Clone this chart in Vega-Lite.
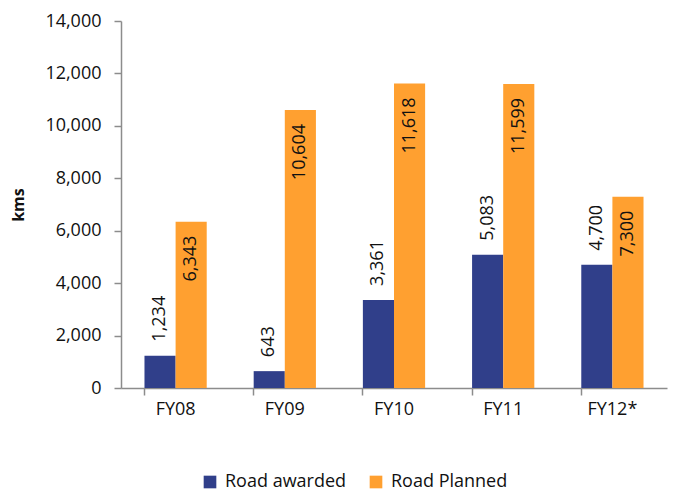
{
  "$schema": "https://vega.github.io/schema/vega-lite/v6.json",
  "width": 546,
  "height": 367,
  "autosize": {"type": "none"},
  "padding": {"left": 121, "top": 21, "right": 8, "bottom": 106},
  "background": "white",
  "config": {
    "font": "Open Sans",
    "view": {"stroke": null},
    "axis": {
      "labelFont": "Open Sans",
      "labelFontSize": 18,
      "labelColor": "#111111",
      "domainColor": "#8c8c8c",
      "tickColor": "#8c8c8c",
      "grid": false
    }
  },
  "data": {
    "values": [
      {"year": "FY08", "series": "Road awarded", "kms": 1234},
      {"year": "FY08", "series": "Road Planned", "kms": 6343},
      {"year": "FY09", "series": "Road awarded", "kms": 643},
      {"year": "FY09", "series": "Road Planned", "kms": 10604},
      {"year": "FY10", "series": "Road awarded", "kms": 3361},
      {"year": "FY10", "series": "Road Planned", "kms": 11618},
      {"year": "FY11", "series": "Road awarded", "kms": 5083},
      {"year": "FY11", "series": "Road Planned", "kms": 11599},
      {"year": "FY12*", "series": "Road awarded", "kms": 4700},
      {"year": "FY12*", "series": "Road Planned", "kms": 7300}
    ]
  },
  "encoding": {
    "x": {
      "field": "year",
      "type": "nominal",
      "sort": null,
      "scale": {"paddingInner": 0.43, "paddingOuter": 0.215},
      "axis": {
        "title": null,
        "labelAngle": 0,
        "labelPadding": 5,
        "bandPosition": 0,
        "tickSize": 7,
        "domainWidth": 1.5,
        "tickWidth": 1.5
      }
    },
    "xOffset": {"field": "series", "type": "nominal", "sort": ["Road awarded", "Road Planned"]},
    "y": {
      "field": "kms",
      "type": "quantitative",
      "scale": {"domain": [0, 14000], "nice": false},
      "axis": {
        "title": "kms",
        "titleFont": "Open Sans",
        "titleFontSize": 16,
        "titleFontWeight": "bold",
        "titleColor": "#111111",
        "titlePadding": 18,
        "values": [0, 2000, 4000, 6000, 8000, 10000, 12000, 14000],
        "format": ",.0f",
        "tickSize": 7,
        "labelPadding": 13,
        "domainWidth": 1.5,
        "tickWidth": 1.5
      }
    }
  },
  "layer": [
    {
      "mark": {"type": "bar"},
      "encoding": {
        "color": {
          "field": "series",
          "type": "nominal",
          "sort": ["Road awarded", "Road Planned"],
          "scale": {"domain": ["Road awarded", "Road Planned"], "range": ["#303F8A", "#FFA030"]},
          "legend": {
            "title": null,
            "orient": "none",
            "direction": "horizontal",
            "legendX": 80,
            "legendY": 452,
            "symbolType": "square",
            "symbolSize": 160,
            "symbolStrokeWidth": 0,
            "labelFont": "Open Sans",
            "labelFontSize": 18,
            "labelColor": "#111111",
            "columnPadding": 20,
            "labelOffset": 6
          }
        }
      }
    },
    {
      "transform": [{"filter": "datum.series === 'Road awarded'"}],
      "mark": {"type": "text", "angle": -90, "align": "left", "baseline": "middle", "dx": 14, "fontSize": 18, "color": "#111111"},
      "encoding": {"text": {"field": "kms", "type": "quantitative", "format": ",.0f"}}
    },
    {
      "transform": [{"filter": "datum.series === 'Road Planned'"}],
      "mark": {"type": "text", "angle": -90, "align": "right", "baseline": "middle", "dx": -14, "fontSize": 18, "color": "#111111"},
      "encoding": {"text": {"field": "kms", "type": "quantitative", "format": ",.0f"}}
    }
  ]
}
